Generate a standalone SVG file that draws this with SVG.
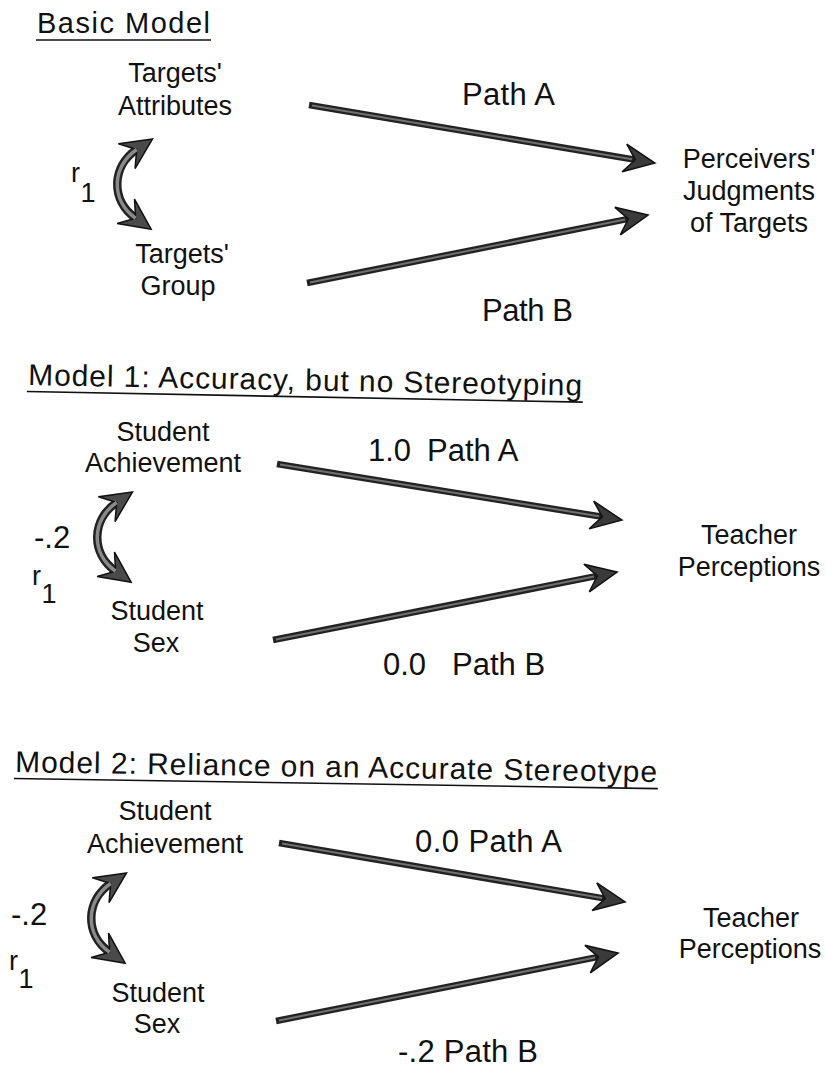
<svg xmlns="http://www.w3.org/2000/svg" width="826" height="1072" viewBox="0 0 826 1072">
<style>
text{font-family:"Liberation Sans",Arial,Helvetica,sans-serif;fill:#111}
.title{font-size:30px}
.node{font-size:27px;text-anchor:middle}
.lab{font-size:31px}
.r{font-size:27px}
.ul{stroke:#111;stroke-width:1.6}
.shaft{fill:none;stroke:#222;stroke-width:6.5}
.shaftin{fill:none;stroke:#707070;stroke-width:2}
.arc{fill:none;stroke:#222;stroke-width:8.5}
.arcin{fill:none;stroke:#8a8a8a;stroke-width:3.5}
</style>
<defs>
<marker id="ah" markerUnits="userSpaceOnUse" orient="auto" viewBox="-34 -17 56 34" markerWidth="56" markerHeight="34" refX="-20" refY="0" overflow="visible">
<path d="M0,0 L-31,-14 L-20,0 L-31,14 Z" fill="#3a3a3a" stroke="#111" stroke-width="1.5" stroke-linejoin="miter"/>
</marker>
<marker id="ahc" markerUnits="userSpaceOnUse" orient="auto-start-reverse" viewBox="-34 -17 56 34" markerWidth="56" markerHeight="34" refX="-19" refY="0" overflow="visible">
<path d="M0,0 L-31,-15 L-19,0 L-31,15 Z" fill="#4a4a4a" stroke="#111" stroke-width="1.5"/>
</marker>
</defs>
<rect width="826" height="1072" fill="#fff"/>

<g id="titles">
<g id="title-basic"><text class="title" x="37" y="33" style="font-size:29px" textLength="173" lengthAdjust="spacing">Basic Model</text><line class="ul" x1="36" y1="40" x2="211" y2="40"/></g>
<g id="title-model1" transform="rotate(1.1 28 385)"><text class="title" x="28" y="385" textLength="554" lengthAdjust="spacing">Model 1: Accuracy, but no Stereotyping</text><line class="ul" x1="27" y1="391.5" x2="583" y2="391.5"/></g>
<g id="title-model2" transform="rotate(0.9 15 772)"><text class="title" x="15" y="772" textLength="642" lengthAdjust="spacing">Model 2: Reliance on an Accurate Stereotype</text><line class="ul" x1="14" y1="778.5" x2="658" y2="778.5"/></g>
</g>

<g id="connectors">
<!-- Basic model -->
<line class="shaft" x1="309" y1="105" x2="635.3" y2="159.7" marker-end="url(#ah)"/>
<line class="shaftin" x1="312" y1="105.5" x2="632" y2="159.2"/>
<line class="shaft" x1="307" y1="283" x2="628.4" y2="218.9" marker-end="url(#ah)"/>
<line class="shaftin" x1="310" y1="282.4" x2="625" y2="219.6"/>
<path class="arc" d="M135.6,218.2 C110,200 112,166 136.7,149.5" marker-start="url(#ahc)" marker-end="url(#ahc)"/>
<path class="arcin" d="M135.6,218.2 C110,200 112,166 136.7,149.5"/>
<!-- Model 1 -->
<line class="shaft" x1="277" y1="464" x2="602.3" y2="516.8" marker-end="url(#ah)"/>
<line class="shaftin" x1="280" y1="464.5" x2="599" y2="516.3"/>
<line class="shaft" x1="273" y1="640" x2="597.4" y2="575.9" marker-end="url(#ah)"/>
<line class="shaftin" x1="276" y1="639.4" x2="594" y2="576.6"/>
<path class="arc" d="M115.6,571.2 C90,553 92,519 116.7,502.5" marker-start="url(#ahc)" marker-end="url(#ahc)"/>
<path class="arcin" d="M115.6,571.2 C90,553 92,519 116.7,502.5"/>
<!-- Model 2 -->
<line class="shaft" x1="279" y1="843" x2="605.3" y2="898.6" marker-end="url(#ah)"/>
<line class="shaftin" x1="282" y1="843.5" x2="602" y2="898"/>
<line class="shaft" x1="276" y1="1021" x2="598.4" y2="956.9" marker-end="url(#ah)"/>
<line class="shaftin" x1="279" y1="1020.4" x2="595" y2="957.6"/>
<path class="arc" d="M109.6,952.2 C84,934 86,900 110.7,883.5" marker-start="url(#ahc)" marker-end="url(#ahc)"/>
<path class="arcin" d="M109.6,952.2 C84,934 86,900 110.7,883.5"/>
</g>

<g id="labels">
<text class="lab" x="462" y="105" textLength="93" lengthAdjust="spacing">Path A</text>
<text class="lab" x="482" y="321" textLength="91" lengthAdjust="spacing">Path B</text>
<text class="r" x="71" y="182">r</text><text class="r" x="80.5" y="202">1</text>

<text class="lab" x="368" y="461">1.0</text><text class="lab" x="427" y="461">Path A</text>
<text class="lab" x="383" y="675">0.0</text><text class="lab" x="452" y="675">Path B</text>
<text class="lab" x="34" y="548">-.2</text>
<text class="r" x="32" y="585">r</text><text class="r" x="41.5" y="603">1</text>

<text class="lab" x="415" y="852" textLength="147" lengthAdjust="spacing">0.0 Path A</text>
<text class="lab" x="398" y="1062" textLength="140" lengthAdjust="spacing">-.2 Path B</text>
<text class="lab" x="11" y="925">-.2</text>
<text class="r" x="9" y="970">r</text><text class="r" x="18.5" y="988">1</text>
</g>

<g id="node-targets-attributes"><text class="node" x="175" y="82">Targets'</text><text class="node" x="175" y="115">Attributes</text></g>
<g id="node-targets-group"><text class="node" x="182" y="263">Targets'</text><text class="node" x="178" y="295">Group</text></g>
<g id="node-perceivers"><text class="node" x="749" y="168">Perceivers'</text><text class="node" x="749" y="200">Judgments</text><text class="node" x="749" y="232">of Targets</text></g>

<g id="node-m1-achievement"><text class="node" x="163" y="441">Student</text><text class="node" x="163" y="472">Achievement</text></g>
<g id="node-m1-sex"><text class="node" x="157" y="620">Student</text><text class="node" x="156" y="652">Sex</text></g>
<g id="node-m1-teacher"><text class="node" x="749" y="544">Teacher</text><text class="node" x="749" y="576">Perceptions</text></g>

<g id="node-m2-achievement"><text class="node" x="165" y="820">Student</text><text class="node" x="165" y="853">Achievement</text></g>
<g id="node-m2-sex"><text class="node" x="158" y="1002">Student</text><text class="node" x="157" y="1033">Sex</text></g>
<g id="node-m2-teacher"><text class="node" x="751" y="927">Teacher</text><text class="node" x="750" y="958">Perceptions</text></g>
</svg>
